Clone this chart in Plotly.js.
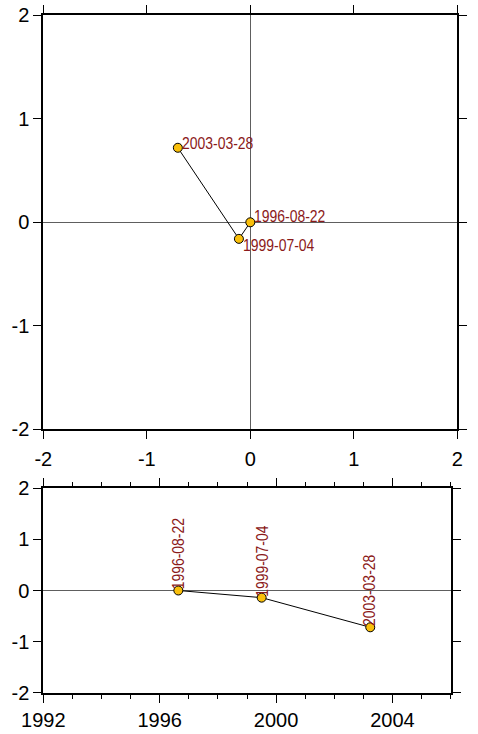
<!DOCTYPE html>
<html>
<head>
<meta charset="utf-8">
<script src="https://cdn.plot.ly/plotly-3.0.1.min.js"></script>
<style>
  html, body { margin: 0; padding: 0; background: #ffffff; }
  #chart { width: 478px; height: 734px; }
</style>
</head>
<body>
<div id="chart"></div>
<script>
// Survey epochs and displacement components
var epochs = ['1996-08-22', '1999-07-04', '2003-03-28'];
var eastOffset = [0, -0.11, -0.70];
var northOffset = [0, -0.16, 0.72];
var seriesOffset = [0, -0.14, -0.72];

var unitTicks = [-2, -1, 0, 1, 2];
var unitLabels = ['-2', '-1', '0', '1', '2'];
var yearTicks = ['1992-01-01', '1996-01-01', '2000-01-01', '2004-01-01'];
var yearLabels = ['1992', '1996', '2000', '2004'];

var labelColor = '#8b1a1a';
var markerFill = '#f9bf0b';
var labelFont = { family: '"Liberation Sans", Arial, Helvetica, sans-serif', size: 17, color: labelColor };
var tickFont = { family: '"Liberation Sans", Arial, Helvetica, sans-serif', size: 20, color: '#000000' };
// Horizontal squeeze that gives the epoch labels a narrow face
var NARROW = 0.82;

var W = 478, H = 734;
function fx(px) { return px / W; }
function fy(px) { return 1 - px / H; }

var traces = [
  {
    x: eastOffset, y: northOffset,
    xaxis: 'x', yaxis: 'y',
    mode: 'lines+markers',
    line: { color: '#000000', width: 1 },
    marker: { size: 9, color: markerFill, line: { color: '#000000', width: 1 } },
    hoverinfo: 'skip'
  },
  {
    x: epochs, y: seriesOffset,
    xaxis: 'x2', yaxis: 'y2',
    mode: 'lines+markers',
    line: { color: '#000000', width: 1 },
    marker: { size: 9, color: markerFill, line: { color: '#000000', width: 1 } },
    hoverinfo: 'skip'
  }
];

// Labels beside each point in the plan view, and above each point in the time series
var planShifts = [[3, 6], [3, -7], [3, 4]];
var annotations = [];
for (var i = 0; i < epochs.length; i++) {
  annotations.push({
    xref: 'x', yref: 'y',
    x: eastOffset[i], y: northOffset[i],
    text: epochs[i],
    showarrow: false,
    xanchor: 'left', yanchor: 'middle',
    xshift: planShifts[i][0], yshift: planShifts[i][1],
    font: labelFont,
    borderpad: 0
  });
  annotations.push({
    xref: 'x2', yref: 'y2',
    x: epochs[i], y: seriesOffset[i],
    text: epochs[i],
    showarrow: false,
    textangle: -90,
    xanchor: 'center', yanchor: 'bottom',
    xshift: 0, yshift: 0,
    font: labelFont,
    borderpad: 0
  });
}

var frameAxis = {
  showline: true, linecolor: '#000000', linewidth: 2,
  mirror: 'allticks',
  ticks: 'outside', ticklen: 8, tickwidth: 1, tickcolor: '#000000',
  showgrid: false,
  tickfont: tickFont,
  fixedrange: true
};

function axis(extra) {
  var a = JSON.parse(JSON.stringify(frameAxis));
  for (var k in extra) a[k] = extra[k];
  return a;
}

var zeroStyle = { zeroline: true, zerolinecolor: '#5e5e5e', zerolinewidth: 1.5 };

var layout = {
  width: W, height: H,
  margin: { l: 0, r: 0, t: 0, b: 0 },
  paper_bgcolor: '#ffffff', plot_bgcolor: '#ffffff',
  showlegend: false,
  xaxis: axis(Object.assign({
    domain: [fx(43.3), fx(457.3)], anchor: 'y',
    range: [-2, 2], tickvals: unitTicks, ticktext: unitLabels,
    ticklabelstandoff: 3
  }, zeroStyle)),
  yaxis: axis(Object.assign({
    domain: [fy(429.3), fy(15.3)], anchor: 'x',
    range: [-2, 2], tickvals: unitTicks, ticktext: unitLabels
  }, zeroStyle)),
  xaxis2: axis({
    domain: [fx(43.3), fx(450.7)], anchor: 'y2',
    type: 'date',
    range: ['1992-01-01', '2006-01-01'],
    tickvals: yearTicks, ticktext: yearLabels,
    minor: { dtick: 'M12', tick0: '1992-01-01', ticks: 'outside', ticklen: 4, tickwidth: 1, tickcolor: '#000000', showgrid: false },
    zeroline: false
  }),
  yaxis2: axis(Object.assign({
    domain: [fy(692.7), fy(488.3)], anchor: 'x2',
    range: [-2, 2], tickvals: unitTicks, ticktext: unitLabels
  }, zeroStyle)),
  annotations: annotations
};

Plotly.newPlot('chart', traces, layout, { staticPlot: true, displayModeBar: false }).then(function (gd) {
  // Compress each epoch label along its baseline, keeping its starting edge in place
  var texts = gd.querySelectorAll('.annotation-text');
  texts.forEach(function (t) {
    var w = t.getComputedTextLength();
    var x = parseFloat(t.getAttribute('x')) || 0;
    t.setAttribute('textLength', (w * NARROW).toFixed(2));
    t.setAttribute('lengthAdjust', 'spacingAndGlyphs');
    t.setAttribute('x', (x - w * (1 - NARROW) / 2).toFixed(2));
  });
});
</script>
</body>
</html>
